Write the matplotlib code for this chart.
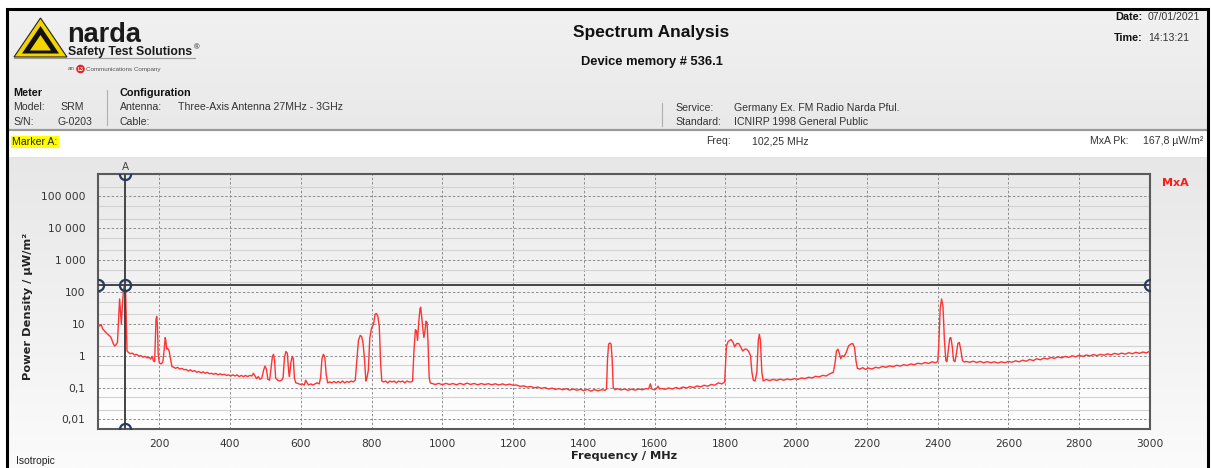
import numpy as np
import matplotlib.pyplot as plt
from matplotlib.colors import LinearSegmentedColormap
from matplotlib.patches import Polygon, Circle
from matplotlib.ticker import FixedLocator, NullLocator

# spectrum trace (MHz, uW/m^2), split in bands
fm_freq = [27, 32, 36, 40, 46, 52, 58, 62, 66, 70, 74, 78, 82, 86, 88, 91, 93,
           96, 99, 102.25, 105, 107, 109]
fm_val = [9.0, 8.5, 9.5, 7.0, 5.8, 5.0, 4.3, 4.0, 3.2, 2.4, 2.0, 2.2, 2.6, 20,
          60, 20, 10, 40, 120, 167.8, 100, 10, 1.4]

vhf_freq = [112, 118, 124, 130, 136, 142, 148, 154, 160, 166, 172, 176, 180,
            184, 187, 189, 191, 193, 195, 197, 200, 205, 210, 214, 217, 219,
            221, 224, 228, 232, 236]
vhf_val = [1.3, 1.15, 1.2, 1.05, 1.1, 0.98, 1.0, 0.9, 0.95, 0.85, 0.88, 0.78,
           0.95, 0.68, 0.65, 3, 14, 17, 8, 1.2, 0.6, 0.55, 0.62, 1.5, 3.7, 2.8,
           1.6, 1.7, 1.4, 0.8, 0.45]

low_freq = [240, 246, 252, 258, 264, 270, 276, 282, 288, 294, 300, 306, 312,
            318, 324, 330, 336, 342, 348, 354, 360, 366, 372, 378, 384, 390,
            396, 402, 408, 414, 420, 426, 432, 438, 444, 450, 456, 462, 466,
            470, 475, 480, 485, 490, 495, 499, 503, 507, 512]
low_val = [0.44, 0.40, 0.43, 0.38, 0.40, 0.36, 0.37, 0.33, 0.36, 0.32, 0.34,
           0.30, 0.32, 0.29, 0.31, 0.28, 0.30, 0.27, 0.28, 0.26, 0.28, 0.25,
           0.27, 0.25, 0.26, 0.24, 0.25, 0.23, 0.25, 0.23, 0.25, 0.22, 0.24,
           0.22, 0.24, 0.22, 0.24, 0.23, 0.28, 0.24, 0.19, 0.22, 0.18, 0.2,
           0.35, 0.47, 0.38, 0.18, 0.17]

uhf_freq = [516, 520, 523, 526, 529, 535, 540, 546, 550, 554, 558, 562, 566,
            568, 572, 576, 579, 582, 586, 592, 598, 604, 610, 614, 618, 622,
            628, 634, 640, 646, 652, 656, 660, 664, 668, 672, 676, 682, 688,
            694, 700, 706, 712, 718, 724, 730, 736, 742, 748, 754]
uhf_val = [0.4, 0.95, 1.1, 0.7, 0.2, 0.17, 0.16, 0.17, 0.2, 0.9, 1.35, 1.2,
           0.3, 0.22, 0.6, 0.95, 0.8, 0.2, 0.14, 0.135, 0.125, 0.13, 0.12,
           0.17, 0.14, 0.12, 0.13, 0.12, 0.13, 0.14, 0.13, 0.2, 0.8, 1.1, 0.9,
           0.25, 0.14, 0.15, 0.14, 0.155, 0.14, 0.155, 0.14, 0.16, 0.14, 0.155,
           0.145, 0.16, 0.15, 0.17]

lte_freq = [758, 763, 768, 772, 776, 780, 784, 787, 791, 795, 800, 806, 810,
            814, 818, 822, 826, 829, 834, 840, 846, 852, 858, 864, 870, 876,
            882, 888, 894, 900, 906, 912, 916, 920, 924, 927, 930, 933, 937,
            939, 942, 945, 948, 951, 954, 957, 960, 963, 966]
lte_val = [0.6, 3.0, 4.3, 4.0, 2.5, 0.8, 0.16, 0.2, 0.35, 3.5, 7.3, 10, 20, 21,
           17, 8, 0.5, 0.16, 0.15, 0.16, 0.14, 0.16, 0.15, 0.16, 0.14, 0.16,
           0.15, 0.16, 0.14, 0.16, 0.15, 0.15, 0.16, 1.5, 6.5, 6.0, 3.0, 10,
           30, 33, 15, 7, 3.7, 6, 12, 11, 2, 0.2, 0.14]

mid_freq = [970, 980, 990, 1000, 1010, 1020, 1030, 1040, 1050, 1060, 1070,
            1080, 1090, 1100, 1110, 1120, 1130, 1140, 1150, 1160, 1170, 1180,
            1190, 1200, 1210, 1220, 1230, 1240, 1250, 1260, 1270, 1280, 1290,
            1300, 1310, 1320, 1330, 1340, 1350, 1360, 1370, 1380, 1390, 1400,
            1410, 1420, 1430, 1440, 1450, 1460, 1464, 1467, 1470, 1474, 1477,
            1480, 1483, 1488]
mid_val = [0.135, 0.125, 0.135, 0.122, 0.135, 0.125, 0.133, 0.122, 0.135,
           0.124, 0.137, 0.125, 0.134, 0.122, 0.133, 0.124, 0.132, 0.122,
           0.131, 0.12, 0.13, 0.12, 0.128, 0.118, 0.12, 0.108, 0.113, 0.103,
           0.108, 0.098, 0.104, 0.094, 0.1, 0.09, 0.096, 0.087, 0.093, 0.085,
           0.092, 0.083, 0.09, 0.082, 0.088, 0.08, 0.087, 0.077, 0.086, 0.079,
           0.085, 0.082, 0.09, 0.8, 2.3, 2.5, 2.3, 0.8, 0.1, 0.085]

gsm_freq = [1495, 1505, 1515, 1525, 1535, 1545, 1555, 1565, 1575, 1583, 1588,
            1592, 1600, 1606, 1610, 1614, 1620, 1630, 1640, 1650, 1660, 1670,
            1680, 1690, 1700, 1710, 1720, 1730, 1740, 1750, 1760, 1770, 1780,
            1790, 1798, 1803, 1808, 1816, 1822, 1826, 1832, 1838, 1843, 1849,
            1855, 1860, 1866, 1871, 1875, 1879, 1884, 1889, 1893, 1896, 1899,
            1903, 1907]
gsm_val = [0.092, 0.084, 0.09, 0.082, 0.089, 0.083, 0.09, 0.085, 0.092, 0.09,
           0.13, 0.09, 0.085, 0.095, 0.11, 0.09, 0.093, 0.088, 0.097, 0.09,
           0.1, 0.092, 0.104, 0.096, 0.108, 0.1, 0.112, 0.105, 0.118, 0.11,
           0.125, 0.118, 0.14, 0.13, 0.15, 2.0, 2.8, 3.2, 2.6, 1.9, 2.4, 2.4,
           1.9, 1.4, 1.6, 1.6, 1.35, 1.0, 0.3, 0.17, 0.16, 0.3, 3.0, 4.7, 3.0,
           0.3, 0.16]

umts_freq = [1915, 1925, 1935, 1945, 1955, 1965, 1975, 1985, 1995, 2005, 2015,
             2025, 2035, 2045, 2055, 2065, 2075, 2085, 2095, 2105, 2110, 2114,
             2118, 2122, 2126, 2130, 2136, 2142, 2148, 2154, 2160, 2165, 2169,
             2173]
umts_val = [0.18, 0.165, 0.18, 0.168, 0.183, 0.17, 0.185, 0.175, 0.19, 0.18,
            0.2, 0.19, 0.21, 0.2, 0.225, 0.215, 0.24, 0.23, 0.27, 0.3, 0.6,
            1.4, 1.6, 1.2, 0.8, 1.0, 0.95, 1.3, 2.0, 2.3, 2.4, 1.8, 0.7, 0.4]

wifi_freq = [2180, 2188, 2196, 2204, 2214, 2224, 2234, 2244, 2254, 2264, 2274,
             2284, 2294, 2304, 2314, 2324, 2334, 2344, 2354, 2364, 2374, 2384,
             2394, 2400, 2403, 2407, 2411, 2415, 2419, 2423, 2426, 2430, 2434,
             2437, 2441, 2445, 2449, 2453, 2457, 2461, 2465, 2470, 2475]
wifi_val = [0.38, 0.42, 0.37, 0.41, 0.38, 0.43, 0.41, 0.46, 0.43, 0.48, 0.45,
            0.5, 0.47, 0.52, 0.49, 0.55, 0.52, 0.58, 0.55, 0.61, 0.57, 0.64,
            0.6, 0.66, 2, 30, 60, 35, 3, 0.7, 0.65, 1.5, 3.5, 3.7, 2, 0.7, 0.65,
            1.2, 2.4, 2.6, 1.6, 0.7, 0.63]

high_freq = [2480, 2490, 2500, 2510, 2520, 2530, 2540, 2550, 2560, 2570, 2580,
             2590, 2600, 2610, 2620, 2630, 2640, 2650, 2660, 2670, 2680, 2690,
             2700, 2710, 2720, 2730, 2740, 2750, 2760, 2770, 2780, 2790, 2800,
             2810, 2820, 2830, 2840, 2850, 2860, 2870, 2880, 2890, 2900, 2910,
             2920, 2930, 2940, 2950, 2960, 2970, 2980, 2990, 3000]
high_val = [0.66, 0.62, 0.67, 0.61, 0.66, 0.6, 0.65, 0.6, 0.64, 0.59, 0.64,
            0.6, 0.66, 0.62, 0.69, 0.64, 0.72, 0.67, 0.76, 0.7, 0.8, 0.74, 0.84,
            0.78, 0.88, 0.82, 0.92, 0.85, 0.95, 0.88, 0.99, 0.92, 1.03, 0.95,
            1.05, 0.98, 1.08, 1.0, 1.1, 1.03, 1.14, 1.06, 1.18, 1.1, 1.2, 1.12,
            1.24, 1.15, 1.27, 1.18, 1.3, 1.22, 1.4]

marker_freq = 102.25
marker_level = 167.8

y_ticks = [0.01, 0.1, 1, 10, 100, 1000, 10000, 100000]
y_tick_labels = ["0,01", "0,1", "1", "10", "100", "1 000", "10 000", "100 000"]
x_ticks = [200, 400, 600, 800, 1000, 1200, 1400, 1600, 1800, 2000, 2200,
           2400, 2600, 2800, 3000]

freq = np.concatenate([fm_freq, vhf_freq, low_freq, uhf_freq, lte_freq,
                       mid_freq, gsm_freq, umts_freq, wifi_freq, high_freq])
dens = np.concatenate([fm_val, vhf_val, low_val, uhf_val, lte_val,
                       mid_val, gsm_val, umts_val, wifi_val, high_val])

W, H = 1211, 468
fig = plt.figure(figsize=(W / 100, H / 100), dpi=100)
fig.patch.set_facecolor("white")

# background canvas in pixel coordinates for the report frame
bg = fig.add_axes([0, 0, 1, 1], zorder=0)
bg.set_xlim(0, W)
bg.set_ylim(H, 0)
bg.axis("off")


def gradient(x0, x1, y0, y1, top, bottom):
    cm = LinearSegmentedColormap.from_list("g", [top, bottom])
    bg.imshow(np.linspace(0, 1, 128).reshape(-1, 1), cmap=cm, aspect="auto",
              extent=[x0, x1, y1, y0], origin="upper", zorder=0.5)


hfont = "Liberation Sans"
gradient(8, 1208, 10, 129, "#f1f1f1", "#e9e9e9")
gradient(8, 1208, 157, H, "#e7e7e7", "#fbfbfb")
gradient(98, 1150, 174, 429, "#e9e9e9", "#ffffff")
bg.set_xlim(0, W)
bg.set_ylim(H, 0)
bg.plot([8, 1208], [130, 130], color="#9a9a9a", lw=1.6)
bg.plot([8, 1208], [156.5, 156.5], color="#e2e2e2", lw=0.8)
# outer black frame
bg.plot([7, 7, 1208, 1208], [H, 8.5, 8.5, H], color="black", lw=2.2,
        solid_joinstyle="miter")

# narda logo
bg.add_patch(Polygon([(14, 57), (40.5, 18), (67, 57)], closed=True,
                     facecolor="#f3d400", edgecolor="#222222", lw=0.8, zorder=2))
bg.add_patch(Polygon([(22, 53.5), (40.5, 26), (59, 53.5)], closed=True,
                     facecolor="#111111", edgecolor="none", zorder=2))
bg.add_patch(Polygon([(30, 50.5), (40.5, 35), (51, 50.5)], closed=True,
                     facecolor="#f3d400", edgecolor="none", zorder=2))
bg.plot([14, 195], [58, 58], color="#9c9c9c", lw=0.8)
bg.text(67, 41.5, "narda", fontsize=19.5, fontweight="bold", family=hfont,
        color="#1a1a1a", va="baseline")
bg.text(68, 55, "Safety Test Solutions", fontsize=8.8, fontweight="bold",
        family=hfont, color="#1a1a1a", va="baseline")
bg.text(194, 48, "®", fontsize=5.5, family=hfont, color="#1a1a1a", va="center")
bg.text(68, 69, "an", fontsize=4.5, family=hfont, color="#555555", va="center")
bg.add_patch(Circle((80.5, 69), 4.3, facecolor="#e0262a", edgecolor="none",
                    zorder=2))
bg.text(80.5, 69.3, "L3", fontsize=3.6, family=hfont, color="white",
        fontweight="bold", ha="center", va="center", zorder=3)
bg.text(86, 69, "Communications Company", fontsize=4.5, family=hfont,
        color="#555555", va="center")

# titles
bg.text(651, 32, "Spectrum Analysis", fontsize=12.5, fontweight="bold",
        family=hfont, color="#111111", ha="center", va="center")
bg.text(652, 62, "Device memory # 536.1", fontsize=9.3, fontweight="bold",
        family=hfont, color="#111111", ha="center", va="center")

small = dict(fontsize=7.6, family=hfont, color="#333333", va="center")
bold = dict(fontsize=7.8, family=hfont, color="#111111", va="center",
            fontweight="bold")
bg.text(1143, 17, "Date:", ha="right", **bold)
bg.text(1148, 17, "07/01/2021", **small)
bg.text(1143, 38, "Time:", ha="right", **bold)
bg.text(1148, 38, "14:13:21", **small)

bg.text(13, 93, "Meter", **bold)
bg.text(13, 107, "Model:", **small)
bg.text(60, 107, "SRM", **small)
bg.text(13, 122, "S/N:", **small)
bg.text(58, 122, "G-0203", **small)
bg.plot([107, 107], [90, 125], color="#b0b0b0", lw=0.8)
bg.text(120, 93, "Configuration", **bold)
bg.text(120, 107, "Antenna:", **small)
bg.text(178, 107, "Three-Axis Antenna 27MHz - 3GHz", **small)
bg.text(120, 122, "Cable:", **small)
bg.plot([662, 662], [103, 126], color="#b0b0b0", lw=0.8)
bg.text(675, 108, "Service:", **small)
bg.text(734, 108, "Germany Ex. FM Radio Narda Pful.", **small)
bg.text(675, 122, "Standard:", **small)
bg.text(734, 122, "ICNIRP 1998 General Public", **small)

bg.text(12.5, 142, "Marker A:", fontsize=7.6, family=hfont, color="#222222",
        va="center", bbox=dict(boxstyle="square,pad=0.12", facecolor="#ffff00",
                               edgecolor="none"))
bg.text(706, 141, "Freq:", **small)
bg.text(752, 141, "102,25 MHz", **small)
bg.text(1090, 141, "MxA Pk:", **small)
bg.text(1143, 141, "167,8 µW/m²", **small)

bg.text(1175, 183, "MxA", fontsize=8, fontweight="bold", color="#ff1a1a",
        ha="center", va="center")
bg.text(125, 167, "A", fontsize=7.5, color="#444444", ha="center", va="center")
bg.text(28, 306, "Power Density / µW/m²", fontsize=8.2, fontweight="bold",
        color="#222222", rotation=90, ha="center", va="center")
bg.text(624, 456, "Frequency / MHz", fontsize=8.2, fontweight="bold",
        color="#222222", ha="center", va="center")
bg.text(16, 461.5, "Isotropic", fontsize=7.4, family=hfont, color="#222222",
        va="center")

# the spectrum axes
ax = fig.add_axes([98 / W, 1 - 429 / H, (1150 - 98) / W, (429 - 174) / H],
                  zorder=1)
ax.set_facecolor("none")
ax.semilogy(freq, dens, color="#ff3333", lw=1.0, zorder=3)
ax.set_xlim(27, 3000)
ax.set_ylim(0.005, 5e5)

ax.yaxis.set_major_locator(FixedLocator(y_ticks))
ax.set_yticklabels(y_tick_labels)
ax.yaxis.set_minor_locator(FixedLocator(
    [m * 10.0 ** e for e in range(-3, 6) for m in (2, 5)]))
ax.xaxis.set_major_locator(FixedLocator(x_ticks))
ax.xaxis.set_minor_locator(NullLocator())
ax.tick_params(which="both", length=0)
ax.tick_params(axis="y", pad=9, labelsize=7.7, labelcolor="#333333")
ax.tick_params(axis="x", pad=7, labelsize=7.7, labelcolor="#333333")
ax.grid(True, which="major", color="#8c8c8c", lw=0.7, ls=(0, (2.5, 2)))
ax.grid(True, which="minor", axis="y", color="#d2d2d2", lw=0.8, ls="-")
ax.set_axisbelow(True)
for s in ax.spines.values():
    s.set_color("#5a5a5a")
    s.set_linewidth(1.5)

# marker A cross lines with handles
ax.axvline(marker_freq, color="#444444", lw=1.4, zorder=4)
ax.axhline(marker_level, color="#444444", lw=1.4, zorder=4)
handle = dict(marker="o", ms=8, mfc="none", mec="#243a5e", mew=1.6, zorder=5,
              ls="none")
ax.plot([marker_freq, marker_freq, marker_freq], [0.005, marker_level, 5e5],
        **handle)
ax.plot([27, 3000], [marker_level, marker_level], **handle)

fig.savefig("out.png", dpi=100)
